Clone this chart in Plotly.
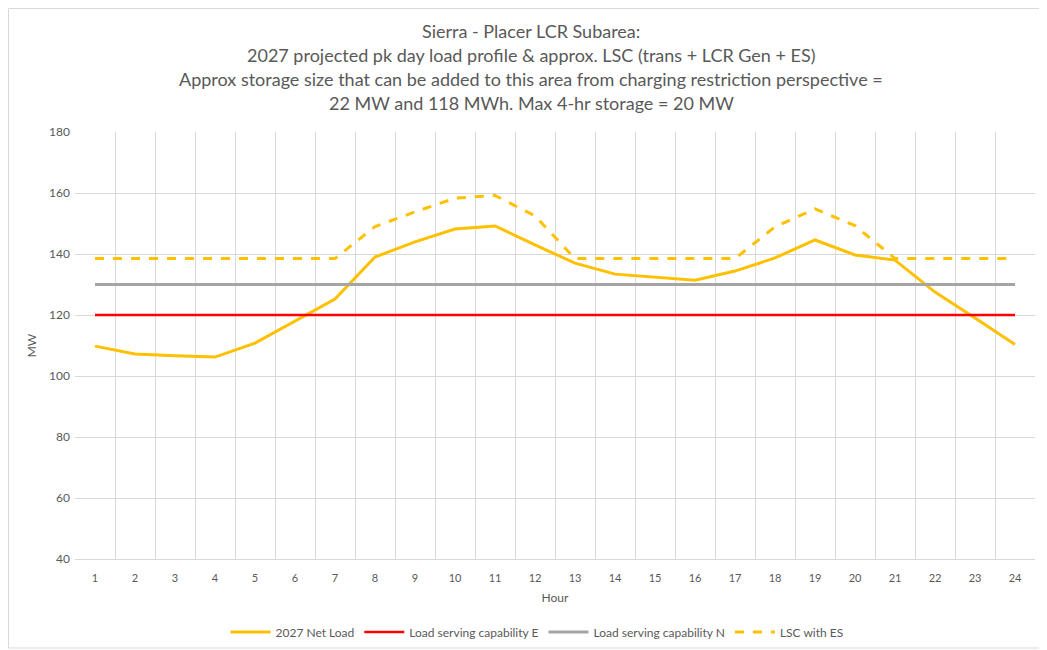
import plotly.graph_objects as go

hours = [str(h) for h in range(1, 25)]
net_load = [109.8, 107.2, 106.6, 106.2, 110.8, 118.0, 125.2, 139.0, 144.0, 148.2, 149.2, 143.0,
            137.0, 133.4, 132.4, 131.4, 134.4, 138.7, 144.6, 139.7, 138.0, 127.5, 119.0, 110.3]
lsc_e = [120] * 24
lsc_n = [130] * 24
lsc_es = [138.5, 138.5, 138.5, 138.5, 138.5, 138.5, 138.5, 149.0, 153.8, 158.3, 159.2, 152.5,
          138.5, 138.5, 138.5, 138.5, 138.5, 148.9, 154.8, 149.3, 138.5, 138.5, 138.5, 138.5]

title_lines = [
    "Sierra - Placer LCR Subarea:",
    "2027 projected pk day load profile & approx. LSC (trans + LCR Gen + ES)",
    "Approx storage size that can be added to this area from charging restriction perspective =",
    "22 MW and 118 MWh. Max 4-hr storage = 20 MW",
]

FONT = "Lato"
fig = go.Figure()
fig.add_trace(go.Scatter(x=hours, y=net_load, name="2027 Net Load", mode="lines",
                         line=dict(color="#FFC000", width=3)))
fig.add_trace(go.Scatter(x=hours, y=lsc_e, name="Load serving capability E", mode="lines",
                         line=dict(color="#FF0000", width=2.5)))
fig.add_trace(go.Scatter(x=hours, y=lsc_n, name="Load serving capability N", mode="lines",
                         line=dict(color="#A5A5A5", width=3)))
fig.add_trace(go.Scatter(x=hours, y=lsc_es, name="LSC with ES", mode="lines",
                         line=dict(color="#FFC000", width=3, dash="dash")))

OFF = 8  # page body margin
W, H = 1047 - OFF, 650 - OFF
L, R, T, B = 75 - OFF, 12, 132 - OFF, 91
pw = W - L - R
ph = H - T - B

def px_x(x):
    return (x - OFF - L) / pw

def px_y(y):
    return (H - B - (y - OFF)) / ph

annotations = []
ys = [31, 55, 79, 103]
for txt, yy in zip(title_lines, ys):
    annotations.append(dict(text=txt, xref="paper", yref="paper",
                            x=px_x(531), y=px_y(yy),
                            xanchor="center", yanchor="middle", showarrow=False,
                            font=dict(family=FONT, size=18, color="#595959")))

fig.update_layout(
    width=W, height=H,
    margin=dict(l=L, r=R, t=T, b=B, autoexpand=False),
    paper_bgcolor="white", plot_bgcolor="white",
    font=dict(family=FONT, color="#595959", size=12),
    showlegend=True,
    legend=dict(orientation="h", x=px_x(537), xanchor="center",
                y=px_y(632), yanchor="middle",
                font=dict(size=12, color="#595959"), itemwidth=40,
                tracegroupgap=0),
    annotations=annotations,
    xaxis=dict(type="category", tickson="boundaries", showgrid=True, gridcolor="#D9D9D9",
               gridwidth=1, ticks="", showline=True, linecolor="#D9D9D9",
               range=[-0.5, 23.5], automargin=False, ticklabelstandoff=9,
               title=dict(text="Hour", font=dict(size=12, color="#595959"), standoff=10),
               tickfont=dict(size=11, color="#595959")),
    yaxis=dict(range=[40, 180], dtick=20, showgrid=True, gridcolor="#D9D9D9", gridwidth=1,
               zeroline=False, ticks="", showline=False, automargin=False,
               ticklabelstandoff=4,
               title=dict(text="MW", font=dict(size=12, color="#595959"), standoff=9),
               tickfont=dict(size=12, color="#595959")),
    shapes=[dict(type="rect", xref="paper", yref="paper",
                 x0=px_x(OFF + 0.5), x1=px_x(1046), y0=px_y(648), y1=px_y(OFF + 0.5),
                 line=dict(color="#D9D9D9", width=1), fillcolor="rgba(0,0,0,0)",
                 layer="below")],
)

fig.write_html("out.html")
